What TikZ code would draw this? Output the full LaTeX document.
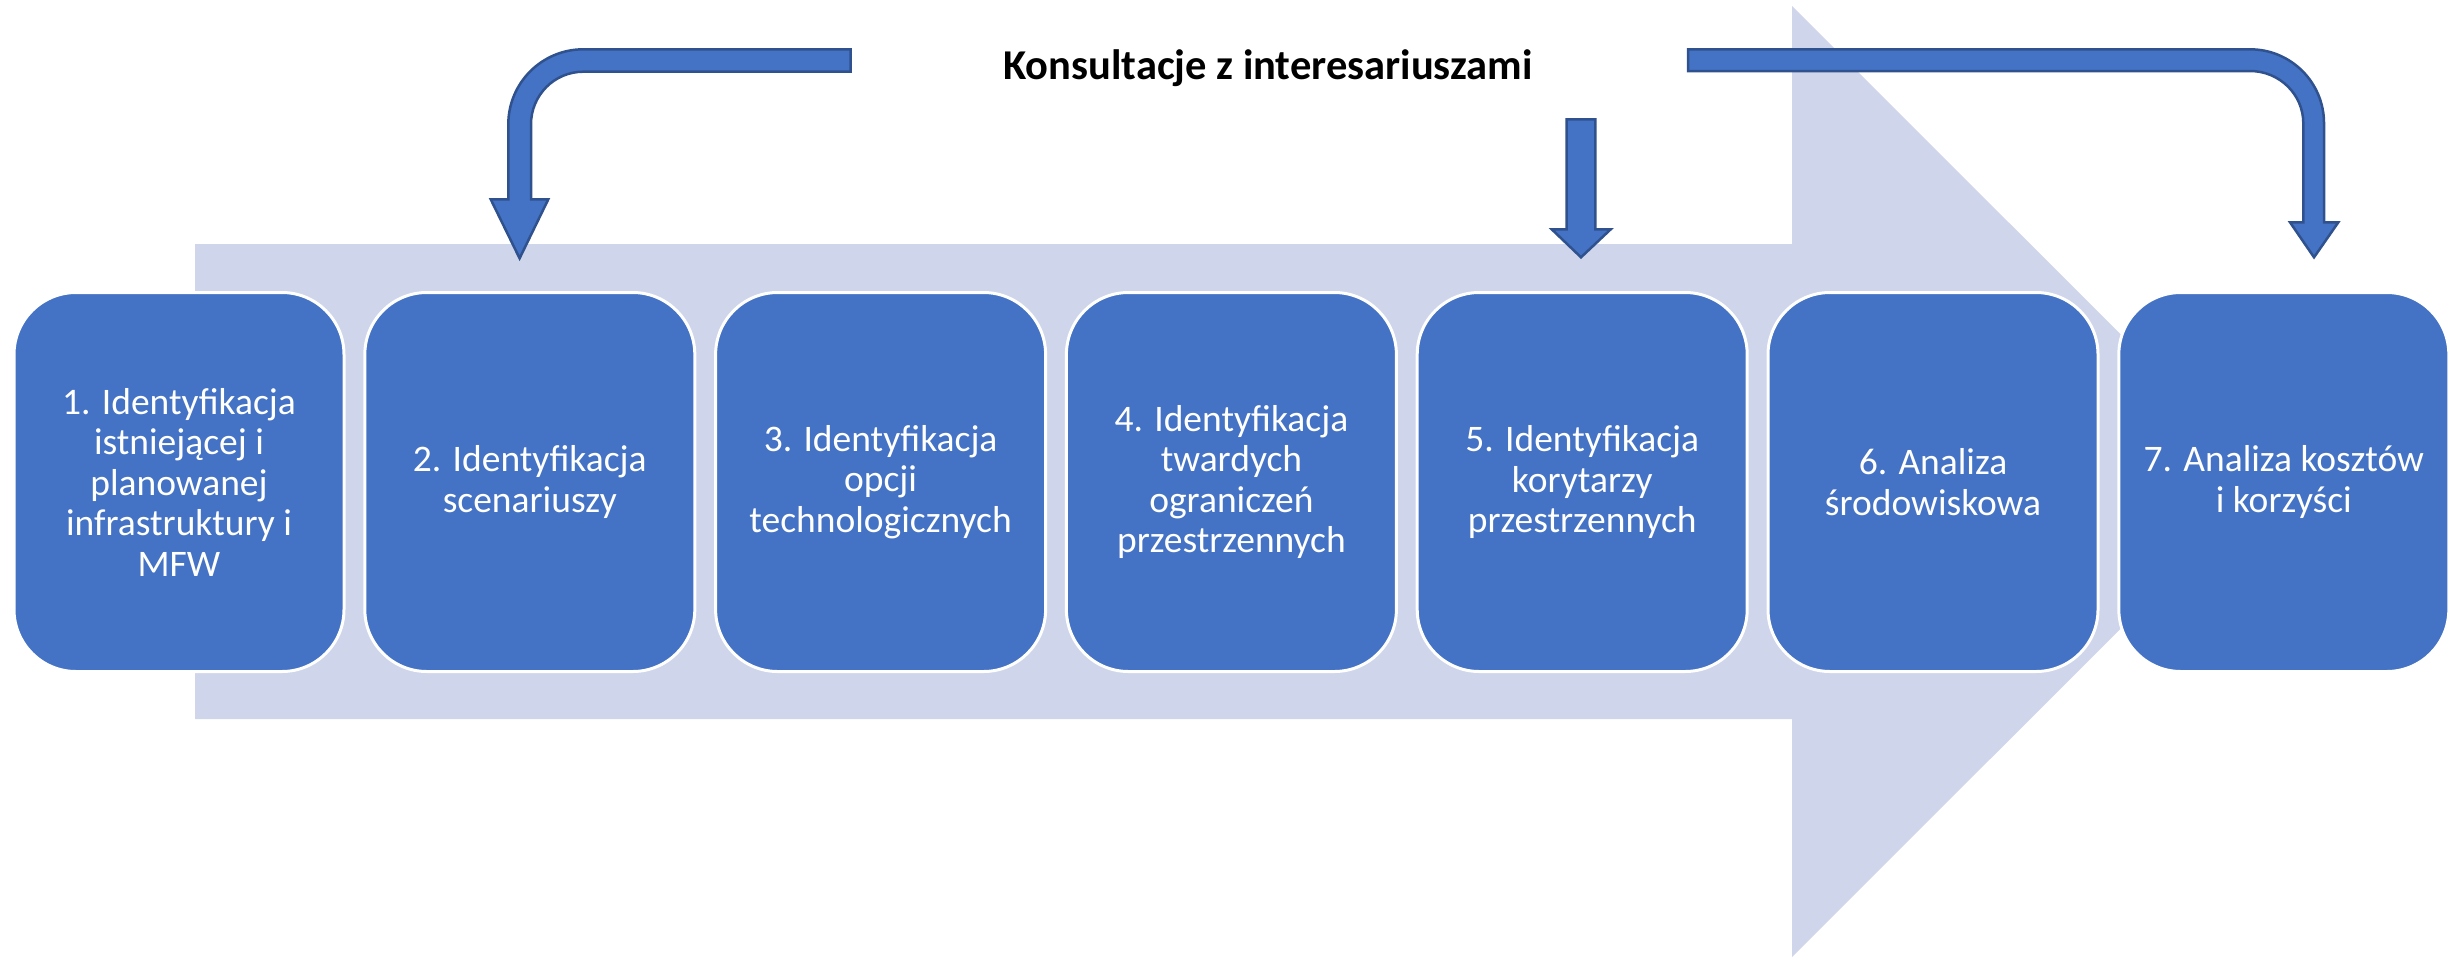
\documentclass[tikz,border=0pt]{standalone}
\usepackage{fontspec}
\setmainfont{Carlito}
\definecolor{boxblue}{HTML}{4472C4}
\definecolor{arrowedge}{HTML}{2F528F}
\definecolor{bgarrow}{HTML}{CFD5EA}
\begin{document}
\begin{tikzpicture}[x=1pt,y=-1pt,
  stepbox/.style={rounded corners=62pt, fill=boxblue, draw=white, line width=3pt,
    minimum width=330pt, minimum height=379pt, text=white, align=center,
    font=\fontsize{37.5}{40.5}\selectfont, inner sep=0pt},
  blockarrow/.style={fill=boxblue, draw=arrowedge, line width=2.5pt, line join=miter},
  titletext/.style={font=\bfseries\fontsize{42.5}{50}\selectfont, text=black, inner sep=0pt}]
\useasboundingbox (0,0) rectangle (2451,959);

% background process arrow
\fill[bgarrow] (195,244) -- (1792,244) -- (1792,6) -- (2268,481.5) -- (1792,957)
  -- (1792,719) -- (195,719) -- cycle;

% steps
\node[stepbox] (s1) at (179,482) {1. Identyfikacja\\istniejącej i\\planowanej\\infrastruktury i\\MFW};
\node[stepbox] (s2) at (529.8,482) {2. Identyfikacja\\scenariuszy};
\node[stepbox] (s3) at (880.6,482) {3. Identyfikacja\\opcji\\technologicznych};
\node[stepbox] (s4) at (1231.4,482) {4. Identyfikacja\\twardych\\ograniczeń\\przestrzennych};
\node[stepbox] (s5) at (1582.2,482) {5. Identyfikacja\\korytarzy\\przestrzennych};
\node[stepbox] (s6) at (1933,482) {6. Analiza\\środowiskowa};
\node[stepbox] (s7) at (2283.8,482) {7. Analiza kosztów\\i korzyści};

% title
\node[titletext, anchor=base] (title) at (1268,79) {Konsultacje z interesariuszami};

% left bent arrow
\draw[blockarrow] (850.7,49.3) -- (583.3,49.3)
  .. controls (541.9,49.3) and (508.3,82.9) .. (508.3,124.3)
  -- (508.3,199.3) -- (490.7,199.3) -- (519.6,258.3) -- (548.3,199.3) -- (531,199.3)
  -- (531,124.3) .. controls (531,95.3) and (554.3,71.7) .. (583.3,71.7)
  -- (850.7,71.7) -- cycle;

% middle straight arrow
\draw[blockarrow] (1566.7,119.3) -- (1595.3,119.3) -- (1595.3,229.3) -- (1610.7,229.3)
  -- (1581,257.3) -- (1551.7,229.3) -- (1566.7,229.3) -- cycle;

% right bent arrow
\draw[blockarrow] (1688,49.3) -- (2250,49.3)
  .. controls (2290.9,49.3) and (2324,82.4) .. (2324,123.3)
  -- (2324,222.3) -- (2338.3,222.3) -- (2314,257.3) -- (2290,222.3) -- (2303.3,222.3)
  -- (2303.3,123.3) .. controls (2303.3,94.4) and (2279.4,71) .. (2250,71)
  -- (1688,71) -- cycle;
\end{tikzpicture}
\end{document}
